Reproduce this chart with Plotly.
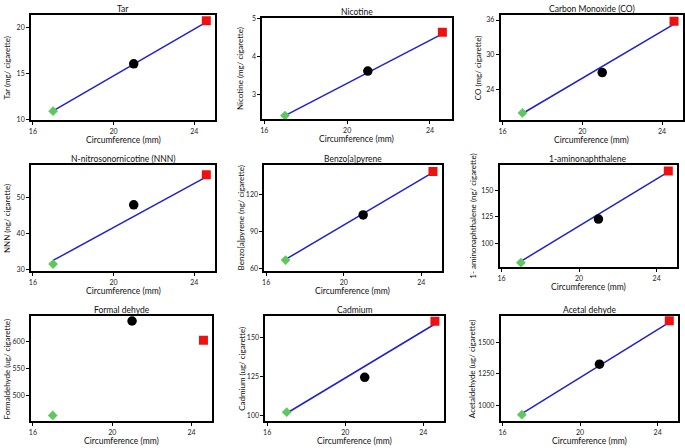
import plotly.graph_objects as go

# ---------------- data ----------------
circumference = [17.0, 21.0, 24.6]          # superslim, slim, king size (mm)
fit_x = [17.0, 24.6]

titles = ["Tar", "Nicotine", "Carbon Monoxide (CO)",
          "N-nitrosonornicotine (NNN)", "Benzo[a]pyrene", "1-aminonaphthalene",
          "Formal dehyde", "Cadmium", "Acetal dehyde"]
y_titles = ["Tar (mg/ cigarette)", "Nicotine (mg/ cigarette)", "CO (mg/ cigarette)",
            "NNN (ng/ cigarette)", "Benzo[a]pyrene (ng/ cigarette)",
            "1- aminonaphthalene (ng/ cigarette)",
            "Formaldehyde (ug/ cigarette)", "Cadmium (ug/ cigarette)",
            "Acetaldehyde (ug/ cigarette)"]
x_title = "Circumference (mm)"
x_ticks = [16, 20, 24]

tar = [10.86, 16.04, 20.75]
nicotine = [2.45, 3.62, 4.64]
co = [19.9, 26.9, 35.8]
nnn = [31.6, 47.9, 56.2]
benzo_a_pyrene = [67.2, 103.8, 139.1]
aminonaphthalene = [82.2, 122.9, 167.8]
formaldehyde = [462.6, 637.3, 601.8]
cadmium = [102.2, 124.6, 160.6]
acetaldehyde = [927, 1326, 1670]

# fitted line end values (at 17 and 24.6 mm); None = no line drawn
tar_fit = [10.9, 20.6]
nicotine_fit = [2.45, 4.6]
co_fit = [19.8, 35.3]
nnn_fit = [32.6, 55.6]
benzo_a_pyrene_fit = [67.7, 138.3]
aminonaphthalene_fit = [83.5, 167.0]
formaldehyde_fit = None
cadmium_fit = [101.5, 158.9]
acetaldehyde_fit = [935, 1657]

y_tick_vals = [[10, 15, 20], [3, 4, 5], [24, 30, 36],
               [30, 40, 50], [60, 90, 120], [100, 125, 150],
               [500, 550, 600], [100, 125, 150], [1000, 1250, 1500]]

series = [tar, nicotine, co, nnn, benzo_a_pyrene, aminonaphthalene,
          formaldehyde, cadmium, acetaldehyde]
fits = [tar_fit, nicotine_fit, co_fit, nnn_fit, benzo_a_pyrene_fit,
        aminonaphthalene_fit, formaldehyde_fit, cadmium_fit, acetaldehyde_fit]

# ---------------- layout / styling ----------------
W, H = 685, 448
# plot boxes in pixels: (left, right, top, bottom)
boxes = [(29, 214, 11, 118), (261, 451, 14, 117), (500, 683, 11, 118),
         (29, 214, 163, 271), (263, 441, 163, 271), (499, 677, 163, 267),
         (29, 211, 316, 423), (264, 443, 316, 423), (500, 678, 316, 423)]
y_ranges = [[9.85, 21.4], [2.35, 5.02], [18.6, 36.9],
            [29.6, 58.9], [58.0, 144.5], [77.8, 173.6],
            [451.7, 647.0], [96.3, 164.2], [874, 1709]]
x_range = [15.9, 25.05]
ytitle_x = [5, 238, 477, 5, 240, 473, 5, 240, 471]

FONT = "Lato, 'Open Sans', sans-serif"
GREEN, BLACK, RED, BLUE = "#5ec85e", "#000000", "#ee1111", "#2020d0"
symbols = ["diamond", "circle", "square"]
colors = [GREEN, BLACK, RED]
sizes = [7.5, 9.5, 9]

fig = go.Figure()
layout = dict(width=W, height=H, autosize=False,
              margin=dict(l=0, r=0, t=0, b=0),
              paper_bgcolor="white", plot_bgcolor="white",
              showlegend=False, font=dict(family=FONT, color="#222"))
annotations = []

def px_x(v):
    return v / W

def px_y(v):
    return 1 - v / H

for i in range(9):
    k = "" if i == 0 else str(i + 1)
    xa, ya = "x" + k, "y" + k
    l, r, t, b = boxes[i]
    common = dict(showline=True, linecolor="black", linewidth=1.6, mirror=True,
                  ticks="outside", ticklen=3, tickwidth=1, tickcolor="black",
                  showgrid=False, zeroline=False,
                  tickfont=dict(size=7, family=FONT, color="#222"))
    layout["xaxis" + k] = dict(domain=[px_x(l), px_x(r)], anchor=ya,
                               range=x_range, tickvals=x_ticks, **common)
    layout["yaxis" + k] = dict(domain=[px_y(b), px_y(t)], anchor=xa,
                               range=y_ranges[i], tickvals=y_tick_vals[i], **common)
    if fits[i] is not None:
        fig.add_trace(go.Scatter(x=fit_x, y=fits[i], mode="lines",
                                 line=dict(color=BLUE, width=1.5),
                                 xaxis=xa, yaxis=ya, hoverinfo="skip"))
    fig.add_trace(go.Scatter(x=circumference, y=series[i], mode="markers",
                             marker=dict(symbol=symbols, color=colors, size=sizes,
                                         opacity=1, line=dict(width=0)),
                             xaxis=xa, yaxis=ya))
    cx = (l + r) / 2
    annotations.append(dict(text=titles[i], x=px_x(cx), y=px_y(t - 6),
                            xref="paper", yref="paper", showarrow=False,
                            xanchor="center", yanchor="middle",
                            font=dict(size=8.5, family=FONT, color="#111")))
    annotations.append(dict(text=x_title, x=px_x(cx), y=px_y(b + 20),
                            xref="paper", yref="paper", showarrow=False,
                            xanchor="center", yanchor="middle",
                            font=dict(size=8.5, family=FONT, color="#111")))
    annotations.append(dict(text=y_titles[i], x=px_x(ytitle_x[i]), y=px_y((t + b) / 2),
                            xref="paper", yref="paper", showarrow=False,
                            xanchor="center", yanchor="middle", textangle=-90,
                            font=dict(size=8, family=FONT, color="#111")))

layout["annotations"] = annotations
fig.update_layout(**layout)
fig.write_html("out.html", config={"displayModeBar": False},
               post_script="document.body.style.margin='0';"
                           "document.body.style.overflow='hidden';")
